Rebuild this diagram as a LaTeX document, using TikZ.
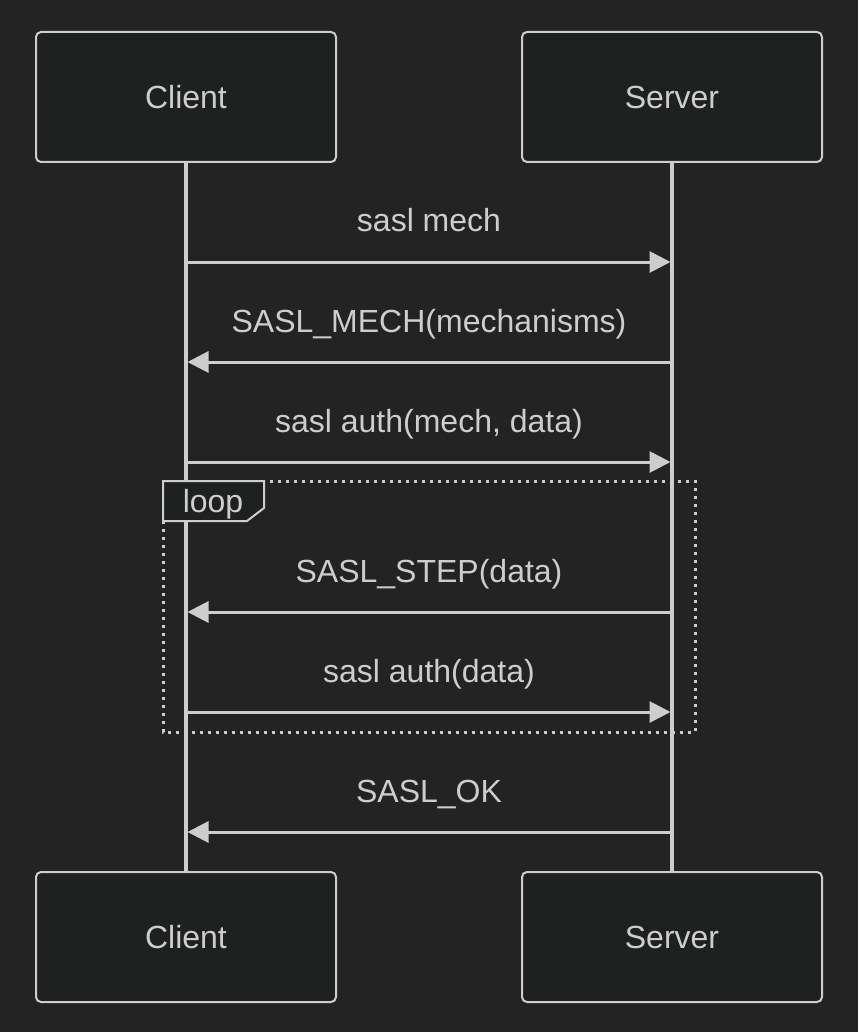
\documentclass[tikz,border=0pt]{standalone}
\usepackage{fontspec}
\setmainfont{Liberation Sans}
\usetikzlibrary{positioning,arrows.meta}
\definecolor{bgdark}{HTML}{232323}
\definecolor{boxfill}{HTML}{1F2121}
\definecolor{linegray}{HTML}{CDCDCD}
\tikzset{
actor/.style={draw=linegray, fill=boxfill, line width=1pt, rounded corners=2.5pt,
  minimum width=150pt, minimum height=65pt, text=linegray, font=\fontsize{16}{19}\selectfont},
lifeline/.style={draw=linegray, line width=1.6pt},
msg/.style={-{Triangle[length=10.5pt,width=10.5pt]}, draw=linegray, fill=linegray,
  line width=1.5pt, shorten >=0.75pt},
msgtext/.style={anchor=base, text=linegray, font=\fontsize{16}{19}\selectfont, yshift=15pt},
loopframe/.style={draw=linegray, line width=1.5pt, dash pattern=on 1.5pt off 2.5pt},
looptab/.style={draw=linegray, fill=boxfill, line width=1pt},
}

\begin{document}
\begin{tikzpicture}[x=0.5pt, y=-0.5pt]
        \useasboundingbox[fill=bgdark] (0,0) rectangle (858,1032);

        % participants
        \node[actor] (client) at (186,97) {Client};
        \node[actor] (server) at (672,97) {Server};
        \node[actor] (clientB) at (186,937) {Client};
        \node[actor] (serverB) at (672,937) {Server};

        \draw[lifeline] (client.south) -- (clientB.north);
        \draw[lifeline] (server.south) -- (serverB.north);

        % message points on the lifelines
        \coordinate (c1) at (186,262); \coordinate (s1) at (672,262);
        \coordinate (c2) at (186,362); \coordinate (s2) at (672,362);
        \coordinate (c3) at (186,462); \coordinate (s3) at (672,462);
        \coordinate (c4) at (186,612); \coordinate (s4) at (672,612);
        \coordinate (c5) at (186,712); \coordinate (s5) at (672,712);
        \coordinate (c6) at (186,832); \coordinate (s6) at (672,832);

        % loop frame
        \draw[loopframe] (163,481) rectangle (695,732);
        \draw[looptab] (163,481) -- (264,481) -- (264,508) -- (247,521) -- (163,521) -- cycle;
        \node[text=linegray, font=\fontsize{16}{19}\selectfont] (looplabel) at (213,504) {loop};

        % messages
        \draw[msg] (c1) -- node[msgtext] (m1) {sasl mech} (s1);
        \draw[msg] (s2) -- node[msgtext] (m2) {SASL\_MECH(mechanisms)} (c2);
        \draw[msg] (c3) -- node[msgtext] (m3) {sasl auth(mech, data)} (s3);
        \draw[msg] (s4) -- node[msgtext] (m4) {SASL\_STEP(data)} (c4);
        \draw[msg] (c5) -- node[msgtext] (m5) {sasl auth(data)} (s5);
        \draw[msg] (s6) -- node[msgtext] (m6) {SASL\_OK} (c6);

    \end{tikzpicture}
\end{document}
